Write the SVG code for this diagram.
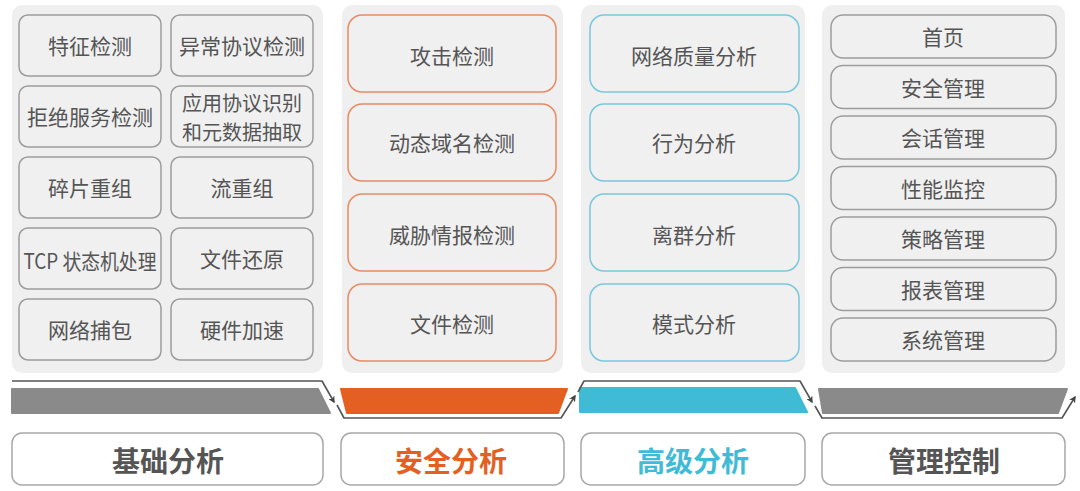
<svg xmlns="http://www.w3.org/2000/svg" width="1080" height="491" viewBox="0 0 1080 491">
<defs>
<style>
.panel{fill:#efefef}
.box{fill:#f0f0f0;stroke:#9c9c9c;stroke-width:1.5}
.bo{fill:#f0f0f0;stroke:#e98a62;stroke-width:1.5}
.bb{fill:#f0f0f0;stroke:#78c8dd;stroke-width:1.5}
.t{font-family:"Noto Sans CJK SC","Noto Sans",sans-serif;font-size:21px;fill:#555;text-anchor:middle;dominant-baseline:central}
.t2{font-size:20px}
.lbl{fill:#fff;stroke:#a8a8a8;stroke-width:1.5}
.lt{font-family:"Noto Sans CJK SC","Noto Sans",sans-serif;font-size:28px;font-weight:bold;text-anchor:middle;dominant-baseline:central}
.conn{fill:none;stroke:#555;stroke-width:1.6;stroke-linejoin:round}
</style>
<marker id="arr" viewBox="0 0 10 10" refX="8" refY="5" markerWidth="7" markerHeight="7" markerUnits="userSpaceOnUse" orient="auto">
<path d="M0,0 L10,5 L0,10 L3,5 Z" fill="#444"/>
</marker>
</defs>
<rect width="1080" height="491" fill="#fff"/>

<g id="panel-basic">
<rect class="panel" x="12" y="5" width="311" height="368" rx="10"/>
<g id="n-tezheng"><rect class="box" x="19" y="15" width="142" height="61" rx="9"/><text class="t" x="90" y="45">特征检测</text></g>
<g id="n-yichang"><rect class="box" x="171" y="15" width="142" height="61" rx="9"/><text class="t" x="242" y="45">异常协议检测</text></g>
<g id="n-jujue"><rect class="box" x="19" y="86" width="142" height="61" rx="9"/><text class="t" x="90" y="116">拒绝服务检测</text></g>
<g id="n-yingyong"><rect class="box" x="171" y="86" width="142" height="61" rx="9"/><text class="t t2" x="242" y="102">应用协议识别</text><text class="t t2" x="242" y="131">和元数据抽取</text></g>
<g id="n-suipian"><rect class="box" x="19" y="157" width="142" height="61" rx="9"/><text class="t" x="90" y="187">碎片重组</text></g>
<g id="n-liu"><rect class="box" x="171" y="157" width="142" height="61" rx="9"/><text class="t" x="242" y="187">流重组</text></g>
<g id="n-tcp"><rect class="box" x="19" y="228" width="142" height="61" rx="9"/><text class="t" x="90" y="260" textLength="133" lengthAdjust="spacingAndGlyphs">TCP 状态机处理</text></g>
<g id="n-wenjian"><rect class="box" x="171" y="228" width="142" height="61" rx="9"/><text class="t" x="242" y="258">文件还原</text></g>
<g id="n-buzhuo"><rect class="box" x="19" y="299" width="142" height="61" rx="9"/><text class="t" x="90" y="329">网络捕包</text></g>
<g id="n-yingjian"><rect class="box" x="171" y="299" width="142" height="61" rx="9"/><text class="t" x="242" y="329">硬件加速</text></g>
</g>

<g id="panel-security">
<rect class="panel" x="342" y="5" width="221" height="368" rx="10"/>
<g id="n-gongji"><rect class="bo" x="348" y="15" width="208" height="77" rx="14"/><text class="t" x="452" y="55">攻击检测</text></g>
<g id="n-dongtai"><rect class="bo" x="348" y="104" width="208" height="77" rx="14"/><text class="t" x="452" y="142">动态域名检测</text></g>
<g id="n-weixie"><rect class="bo" x="348" y="194" width="208" height="77" rx="14"/><text class="t" x="452" y="234">威胁情报检测</text></g>
<g id="n-wjjc"><rect class="bo" x="348" y="284" width="208" height="77" rx="14"/><text class="t" x="452" y="323">文件检测</text></g>
</g>

<g id="panel-advanced">
<rect class="panel" x="581" y="5" width="224" height="368" rx="10"/>
<g id="n-zhiliang"><rect class="bb" x="590" y="15" width="209" height="77" rx="14"/><text class="t" x="694" y="55">网络质量分析</text></g>
<g id="n-xingwei"><rect class="bb" x="590" y="104" width="209" height="77" rx="14"/><text class="t" x="694" y="142">行为分析</text></g>
<g id="n-liqun"><rect class="bb" x="590" y="194" width="209" height="77" rx="14"/><text class="t" x="694" y="234">离群分析</text></g>
<g id="n-moshi"><rect class="bb" x="590" y="284" width="209" height="77" rx="14"/><text class="t" x="694" y="323">模式分析</text></g>
</g>

<g id="panel-mgmt">
<rect class="panel" x="822" y="5" width="243" height="368" rx="10"/>
<g id="n-shouye"><rect class="box" x="831" y="15" width="225" height="43" rx="12"/><text class="t" x="943" y="36">首页</text></g>
<g id="n-anquan"><rect class="box" x="831" y="65.5" width="225" height="43" rx="12"/><text class="t" x="943" y="86.5">安全管理</text></g>
<g id="n-huihua"><rect class="box" x="831" y="116" width="225" height="43" rx="12"/><text class="t" x="943" y="137">会话管理</text></g>
<g id="n-xingneng"><rect class="box" x="831" y="166.5" width="225" height="43" rx="12"/><text class="t" x="943" y="187.5">性能监控</text></g>
<g id="n-celue"><rect class="box" x="831" y="217" width="225" height="43" rx="12"/><text class="t" x="943" y="238">策略管理</text></g>
<g id="n-baobiao"><rect class="box" x="831" y="267.5" width="225" height="43" rx="12"/><text class="t" x="943" y="288.5">报表管理</text></g>
<g id="n-xitong"><rect class="box" x="831" y="318" width="225" height="43" rx="12"/><text class="t" x="943" y="339">系统管理</text></g>
</g>

<g id="bars" stroke-linejoin="round" stroke-width="2">
<path d="M12,389 L318,389 L330,413 L12,413 Z" fill="#8a8a8a" stroke="#8a8a8a"/>
<path d="M341,389 L567,389 L558,413 L347,413 Z" fill="#e35f22" stroke="#e35f22"/>
<path d="M580,388 L795,388 L807,412 L580,412 Z" fill="#3fbbd6" stroke="#3fbbd6"/>
<path d="M819,389 L1067,389 L1058,413 L823,413 Z" fill="#8a8a8a" stroke="#8a8a8a"/>
</g>

<g id="connectors">
<path class="conn" d="M12,381 L322,381 L334,402" marker-end="url(#arr)"/>
<path class="conn" d="M337,405 L344,418 L561,418 L575,396" marker-end="url(#arr)"/>
<path class="conn" d="M578,392 L584,381 L800,381 L812,402" marker-end="url(#arr)"/>
<path class="conn" d="M815,406 L822,418 L1062,418 L1075,397" marker-end="url(#arr)"/>
</g>

<g id="label-basic"><rect class="lbl" x="12" y="433" width="311" height="52" rx="10"/><text class="lt" x="168" y="460" fill="#555">基础分析</text></g>
<g id="label-security"><rect class="lbl" x="341" y="433" width="223" height="52" rx="10"/><text class="lt" x="451" y="460" fill="#e35f22">安全分析</text></g>
<g id="label-advanced"><rect class="lbl" x="581" y="433" width="224" height="52" rx="10"/><text class="lt" x="693" y="460" fill="#3fbbd6">高级分析</text></g>
<g id="label-mgmt"><rect class="lbl" x="822" y="433" width="243" height="52" rx="10"/><text class="lt" x="944" y="460" fill="#555">管理控制</text></g>
</svg>
